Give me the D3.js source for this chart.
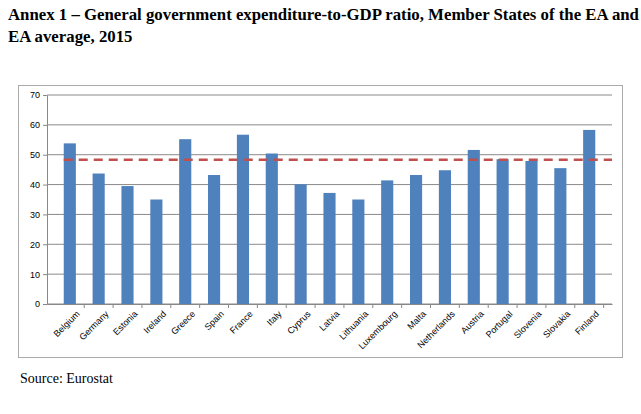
<!DOCTYPE html><html><head><meta charset="utf-8"><script src="https://cdn.jsdelivr.net/npm/d3@7"></script>
<style>body{margin:0;background:#fff}</style></head><body><svg width="641" height="414"></svg><script>
const categories=["Belgium","Germany","Estonia","Ireland","Greece","Spain","France","Italy","Cyprus","Latvia","Lithuania","Luxembourg","Malta","Netherlands","Austria","Portugal","Slovenia","Slovakia","Finland"];
const values=[53.8,43.7,39.5,35.0,55.2,43.2,56.7,50.4,40.1,37.2,35.0,41.4,43.2,44.8,51.6,48.5,47.9,45.5,58.3];
const eaAverage=48.3;
const yTicks=[0,10,20,30,40,50,60,70];
const svg=d3.select("svg");
const tf="'Liberation Serif',serif";
svg.append("text").attr("x",8).attr("y",20).attr("font-family",tf).attr("font-weight","bold").attr("font-size",16.8).text("Annex 1 – General government expenditure-to-GDP ratio, Member States of the EA and");
svg.append("text").attr("x",8).attr("y",42).attr("font-family",tf).attr("font-weight","bold").attr("font-size",16.8).text("EA average, 2015");
svg.append("rect").attr("x",18.5).attr("y",85.5).attr("width",604).attr("height",272).attr("fill","none").attr("stroke","#aaa");
const L=47,R=612,T=95,B=304;
const x=d3.scaleBand().domain(categories).range([L,R]).padding(0.58);
const y=d3.scaleLinear().domain([0,70]).range([B,T]);
svg.append("g").selectAll("line").data(yTicks).join("line").attr("x1",L).attr("x2",R).attr("y1",d=>y(d)).attr("y2",d=>y(d)).attr("stroke","#8a8a8a");
const ya=svg.append("g").attr("transform",`translate(${L},0)`).call(d3.axisLeft(y).tickValues(yTicks).tickSize(4).tickSizeOuter(0));
ya.selectAll("text").attr("font-family","'Liberation Sans',Arial").attr("font-size",9).attr("fill","#000");
ya.select(".domain").attr("stroke","#888");ya.selectAll(".tick line").attr("stroke","#888");
svg.append("g").selectAll("rect").data(values).join("rect").attr("x",(d,i)=>x(categories[i])).attr("width",x.bandwidth()).attr("y",d=>y(d)).attr("height",d=>B-y(d)).attr("fill","#4f81bd");
const xa=svg.append("g").attr("transform",`translate(0,${B})`).call(d3.axisBottom(x).tickSize(4).tickSizeOuter(0));
xa.select(".domain").attr("stroke","#888");
xa.selectAll(".tick line").attr("stroke","#888").attr("transform",`translate(${x.step()/2},0)`);
xa.selectAll("text").attr("font-family","'Liberation Sans',Arial").attr("font-size",9).attr("fill","#000").attr("text-anchor","end").attr("transform","translate(4,4) rotate(-45)").attr("dy","0.35em").attr("y",6);
svg.append("line").attr("x1",x(categories[0])).attr("x2",R).attr("y1",y(eaAverage)).attr("y2",y(eaAverage)).attr("stroke","#c0504d").attr("stroke-width",2.5).attr("stroke-dasharray","9,6");
svg.append("text").attr("x",20).attr("y",383).attr("font-family",tf).attr("font-size",14).text("Source: Eurostat");
</script></body></html>
